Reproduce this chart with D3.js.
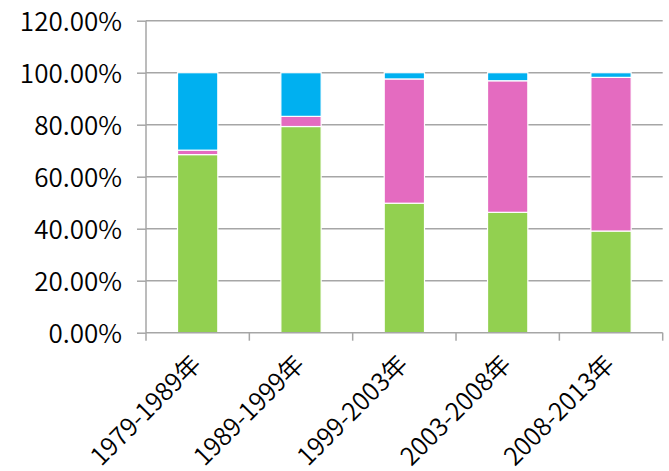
<!DOCTYPE html>
<html><head><meta charset="utf-8">
<script src="https://cdn.jsdelivr.net/npm/d3@7"></script>
<style>
html,body{margin:0;padding:0;background:#fff;}
text{font-family:"Noto Sans CJK SC","Noto Sans",sans-serif;fill:#000;font-weight:350;}
</style></head>
<body>
<svg id="chart" width="669" height="471"></svg>
<script>
const categories = ["1979-1989年","1989-1999年","1999-2003年","2003-2008年","2008-2013年"];
const seriesGreen = [0.685, 0.793, 0.498, 0.463, 0.391];
const seriesPink  = [0.017, 0.039, 0.478, 0.506, 0.591];
const seriesBlue  = [0.298, 0.168, 0.024, 0.031, 0.018];
const yTicks = [0, 0.2, 0.4, 0.6, 0.8, 1.0, 1.2];
const seriesNames = ["green","pink","blue"];
const seriesColors = ["#92D050","#E46BC0","#00B0F0"];

const svg = d3.select("#chart");
const margin = {left:146, right:6.3, top:20.7, bottom:138.3};
const W = 669, H = 471;
const x = d3.scaleBand().domain(categories).range([margin.left, W - margin.right]).paddingInner(0.61).paddingOuter(0.305);
const xb = d3.scaleBand().domain(categories).range([margin.left, W - margin.right]);
const y = d3.scaleLinear().domain([0, 1.2]).range([H - margin.bottom, margin.top]);

const data = categories.map((c,i)=>({cat:c, green:seriesGreen[i], pink:seriesPink[i], blue:seriesBlue[i]}));
const stack = d3.stack().keys(seriesNames)(data);

// gridlines
svg.append("g").selectAll("line").data(yTicks.slice(1)).join("line")
  .attr("x1", margin.left).attr("x2", W - margin.right)
  .attr("y1", d=>y(d)).attr("y2", d=>y(d))
  .attr("stroke","#A6A6A6").attr("stroke-width",1.5);

// bars
svg.append("g").selectAll("g").data(stack).join("g")
  .attr("fill",(d,i)=>seriesColors[i])
  .selectAll("rect").data(d=>d).join("rect")
  .attr("x", d=>x(d.data.cat)).attr("width", x.bandwidth())
  .attr("y", d=>y(d[1])).attr("height", d=>y(d[0])-y(d[1]))
  .attr("stroke","#fff").attr("stroke-width",1.2);

// y axis
const yAxis = d3.axisLeft(y).tickValues(yTicks).tickSize(9).tickPadding(15)
  .tickFormat(d=>d3.format(".2f")(d*100)+"%");
const gy = svg.append("g").attr("transform",`translate(${margin.left},0)`).call(yAxis);
gy.select(".domain").attr("stroke","#A6A6A6").attr("stroke-width",1.5).attr("d",`M0,${y(0)}V${y(1.2)}`);
gy.selectAll(".tick line").attr("stroke","#A6A6A6").attr("stroke-width",1.5);
gy.selectAll(".tick text").attr("font-size",26).attr("dy","0.36em")
  .style("font-family",'"Noto Sans CJK SC",sans-serif').style("font-weight",350);

// x axis
const gx = svg.append("g").attr("transform",`translate(0,${y(0)})`);
gx.append("line").attr("x1",margin.left).attr("x2",W-margin.right).attr("y1",0).attr("y2",0)
  .attr("stroke","#A6A6A6").attr("stroke-width",1.5);
const bounds = categories.map(c=>xb(c)).concat([xb(categories[categories.length-1])+xb.bandwidth()]);
gx.selectAll("line.tk").data(bounds).join("line").attr("class","tk")
  .attr("x1",d=>d).attr("x2",d=>d).attr("y1",0).attr("y2",8)
  .attr("stroke","#A6A6A6").attr("stroke-width",1.5);
gx.selectAll("text").data(categories).join("text")
  .attr("transform",d=>`translate(${xb(d)+xb.bandwidth()/2+5},${33}) rotate(-45)`)
  .attr("text-anchor","end").attr("font-size",25)
  .text(d=>d);
</script>
</body></html>
